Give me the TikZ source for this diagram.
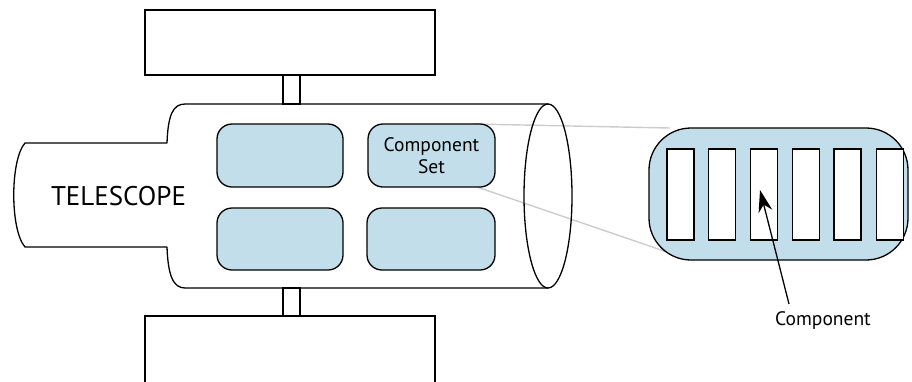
\documentclass[tikz,border=0pt]{standalone}
\usepackage{fontspec}
\setmainfont{PT Sans}
\usetikzlibrary{arrows.meta}
\definecolor{setblue}{HTML}{C2DEEB}
\definecolor{zoomgray}{HTML}{CCCCCC}
\tikzset{
  outline/.style={draw=black, line width=1.3pt},
  labelfont/.style={font=\fontsize{19.5}{22}\selectfont},
  setbox/.style={outline, fill=setblue, rounded corners=15pt, inner sep=0pt, labelfont, align=center},
  partbox/.style={outline, fill=white, inner sep=0pt, minimum width=27pt, minimum height=91pt},
  panel/.style={outline, fill=white},
  zoomline/.style={draw=zoomgray, line width=1.4pt},
}
\begin{document}
\begin{tikzpicture}[x=1pt,y=-1pt]
\useasboundingbox (0,0) rectangle (912,381);

% guide lines from the component set to its enlarged view
\coordinate (zt) at (670,128);
\coordinate (zb) at (667,252);
\coordinate (st) at (473,124);
\coordinate (sb) at (477,187);
\draw[zoomline] (st) -- (zt);
\draw[zoomline] (sb) -- (zb);

% solar panels and struts
\node[panel, minimum width=290pt, minimum height=65pt, inner sep=0pt] (toppanel) at (290,42.5) {};
\node[panel, minimum width=290pt, minimum height=80pt, inner sep=0pt] (botpanel) at (290,356) {};
\draw[outline] (283,75) rectangle (300,104);
\draw[outline] (283,288) rectangle (300,316);

% telescope body
\draw[outline, line join=round]
  (548,104) -- (185,104)
  .. controls (173,104) and (168,115) .. (167,143)
  -- (25,143)
  .. controls (10,160) and (10,230) .. (25,247)
  -- (167,247)
  .. controls (168,275) and (173,288) .. (185,288)
  -- (548,288);
\draw[outline] (548,196) ellipse [x radius=24, y radius=92];

\node[font=\fontsize{27}{30}\selectfont] (scope) at (118.5,196) {TELESCOPE};

% component sets inside the body
\node[setbox, minimum width=126pt, minimum height=63pt] (set1) at (280,155.5) {};
\node[setbox, minimum width=127pt, minimum height=63pt] (set2) at (431.5,155.5) {Component\\Set};
\node[setbox, minimum width=126pt, minimum height=62pt] (set3) at (280,239) {};
\node[setbox, minimum width=128pt, minimum height=62pt] (set4) at (431,239) {};

% enlarged component set
\node[outline, fill=setblue, rounded corners=42pt, minimum width=259pt, minimum height=132pt, inner sep=0pt] (zoomset) at (778.5,194) {};
\foreach \i/\x in {1/680.5,2/722,3/764,4/806,5/847.5,6/890}
  \node[partbox] (part\i) at (\x,194.5) {};

\node[labelfont] (complabel) at (823,320) {Component};
\coordinate (tail) at (789,304);
\coordinate (tip) at (760,190);
\draw[line width=1.3pt, -{Stealth[length=22pt, width=14pt, inset=7pt]}] (tail) -- (tip);
\end{tikzpicture}
\end{document}
